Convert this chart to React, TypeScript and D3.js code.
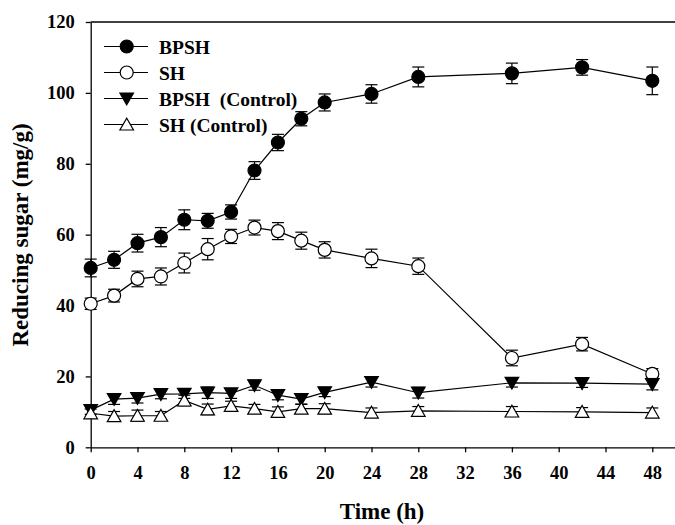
import React, { useRef, useEffect } from "react";
import * as d3 from "d3";

const times = [0, 2, 4, 6, 8, 10, 12, 14, 16, 18, 20, 24, 28, 36, 42, 48];

const bpsh = [50.6, 52.9, 57.6, 59.3, 64.2, 63.9, 66.4, 78.1, 86.0, 92.7, 97.3, 99.7, 104.5, 105.5, 107.2, 103.4];
const bpshErr = [2.5, 2.4, 2.5, 2.7, 2.8, 2.1, 2.0, 2.5, 2.3, 2.0, 2.4, 2.6, 2.8, 2.9, 2.2, 3.9];

const sh = [40.5, 42.8, 47.5, 48.2, 52.0, 55.9, 59.5, 62.0, 61.0, 58.3, 55.7, 53.3, 51.1, 25.2, 29.1, 20.7];
const shErr = [1.6, 1.8, 2.2, 2.4, 2.8, 3.0, 2.0, 2.1, 2.4, 2.4, 2.3, 2.6, 2.3, 2.2, 1.9, 1.5];

const bpshCtrl = [10.5, 13.6, 13.9, 15.0, 15.1, 15.4, 15.2, 17.5, 14.7, 13.6, 15.5, 18.4, 15.4, 18.2, 18.1, 17.8];
const bpshCtrlErr = [1.2, 1.5, 1.4, 1.3, 1.3, 1.6, 1.4, 1.4, 1.3, 1.5, 1.2, 1.4, 1.5, 1.2, 1.2, 1.6];

const shCtrl = [9.6, 8.8, 8.9, 8.9, 13.2, 10.7, 11.7, 10.9, 10.0, 10.9, 10.9, 9.8, 10.3, 10.1, 10.0, 9.8];
const shCtrlErr = [1.2, 1.3, 1.6, 1.2, 1.5, 1.5, 1.3, 1.2, 1.4, 1.3, 1.4, 1.3, 1.2, 1.4, 1.2, 1.3];

const seriesNames = ["BPSH", "SH", "BPSH  (Control)", "SH (Control)"];
const xTicks = [0, 4, 8, 12, 16, 20, 24, 28, 32, 36, 40, 44, 48];
const yTicks = [0, 20, 40, 60, 80, 100, 120];

const FONT = "'Liberation Serif', 'Times New Roman', serif";

const App = () => {
  const ref = useRef<SVGSVGElement>(null);

  useEffect(() => {
    const svg = d3.select(ref.current);
    svg.selectAll("*").remove();

    const width = 675;
    const height = 525;
    svg.attr("width", width).attr("height", height);

    const x = d3.scaleLinear().domain([0, 50]).range([90.7, 675.7]);
    const y = d3.scaleLinear().domain([0, 120]).range([447.3, 22]);

    // frame: top line
    svg.append("line")
      .attr("x1", x(0)).attr("x2", width)
      .attr("y1", y(120)).attr("y2", y(120))
      .attr("stroke", "#000").attr("stroke-width", 1.3);

    const xAxis = svg.append("g")
      .attr("transform", `translate(0,${y(0)})`)
      .call(d3.axisBottom(x).tickValues(xTicks).tickSize(5).tickPadding(14).tickSizeOuter(0));
    const yAxis = svg.append("g")
      .attr("transform", `translate(${x(0)},0)`)
      .call(d3.axisLeft(y).tickValues(yTicks).tickSize(5).tickPadding(11).tickSizeOuter(0));

    [xAxis, yAxis].forEach((ax) => {
      ax.select(".domain").attr("stroke", "#000").attr("stroke-width", 1.3);
      ax.selectAll(".tick line").attr("stroke", "#000").attr("stroke-width", 1.3);
      ax.selectAll(".tick text")
        .attr("font-family", FONT)
        .attr("font-weight", "bold")
        .attr("font-size", 18.5)
        .attr("fill", "#000");
    });

    svg.append("text")
      .attr("x", 382).attr("y", 519)
      .attr("text-anchor", "middle")
      .attr("font-family", FONT).attr("font-weight", "bold").attr("font-size", 23)
      .text("Time (h)");

    svg.append("text")
      .attr("transform", "translate(28,235) rotate(-90)")
      .attr("text-anchor", "middle")
      .attr("font-family", FONT).attr("font-weight", "bold").attr("font-size", 23)
      .text("Reducing sugar (mg/g)");

    const allSeries = [
      { name: seriesNames[0], values: bpsh, errs: bpshErr, shape: "circle", fill: "#000" },
      { name: seriesNames[1], values: sh, errs: shErr, shape: "circle", fill: "#fff" },
      { name: seriesNames[2], values: bpshCtrl, errs: bpshCtrlErr, shape: "down", fill: "#000" },
      { name: seriesNames[3], values: shCtrl, errs: shCtrlErr, shape: "up", fill: "#fff" },
    ];

    const drawMarker = (g, shape, fill, cx, cy) => {
      if (shape === "circle") {
        g.append("circle")
          .attr("cx", cx).attr("cy", cy).attr("r", 6.5)
          .attr("fill", fill).attr("stroke", "#000").attr("stroke-width", 1.2);
      } else {
        const s = shape === "down" ? 1 : -1;
        const pts = [[cx - 6.8, cy - 5.5 * s], [cx + 6.8, cy - 5.5 * s], [cx, cy + 6.3 * s]];
        g.append("path")
          .attr("d", d3.line()(pts) + "Z")
          .attr("fill", fill).attr("stroke", "#000").attr("stroke-width", 1.2);
      }
    };

    const line = d3.line<number>()
      .x((d, i) => x(times[i]))
      .y((d) => y(d));

    allSeries.forEach((s) => {
      const g = svg.append("g");
      g.append("path")
        .attr("d", line(s.values))
        .attr("fill", "none").attr("stroke", "#000").attr("stroke-width", 1.2);

      s.values.forEach((v, i) => {
        const cx = x(times[i]);
        const top = y(v + s.errs[i]);
        const bot = y(v - s.errs[i]);
        g.append("line").attr("x1", cx).attr("x2", cx).attr("y1", top).attr("y2", bot)
          .attr("stroke", "#000").attr("stroke-width", 1.2);
        [top, bot].forEach((yy) => {
          g.append("line").attr("x1", cx - 6).attr("x2", cx + 6).attr("y1", yy).attr("y2", yy)
            .attr("stroke", "#000").attr("stroke-width", 1.2);
        });
      });
      s.values.forEach((v, i) => drawMarker(g, s.shape, s.fill, x(times[i]), y(v)));
    });

    // legend
    const legend = svg.append("g");
    allSeries.forEach((s, i) => {
      const ly = 46.5 + i * 26;
      legend.append("line")
        .attr("x1", 104).attr("x2", 148).attr("y1", ly).attr("y2", ly)
        .attr("stroke", "#000").attr("stroke-width", 1.2);
      drawMarker(legend, s.shape, s.fill, 126.7, ly);
      legend.append("text")
        .attr("x", 159).attr("y", ly + 7)
        .attr("font-family", FONT).attr("font-weight", "bold").attr("font-size", 19.5)
        .style("white-space", "pre")
        .text(s.name);
    });
  }, []);

  return <svg ref={ref} style={{ position: "absolute", left: 0, top: 0, background: "#fff" }}></svg>;
};

export default App;
